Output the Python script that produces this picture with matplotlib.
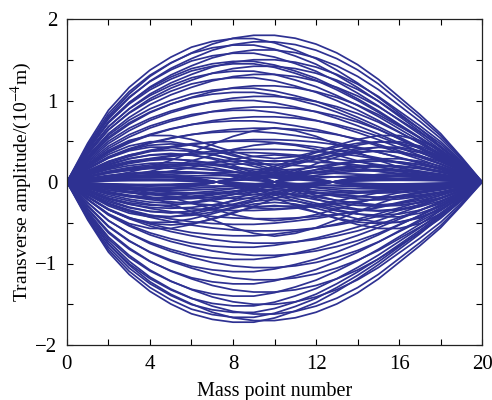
import numpy as np
import matplotlib
matplotlib.use('Agg')
import matplotlib.pyplot as plt
from matplotlib.ticker import MultipleLocator

# Mass points along the string
mass_points = list(range(21))

# Normalised shapes (value at each mass point)
PROFILE_A = [0, .24, .45, .60, .72, .81, .88, .94, .98, 1.00, 1.00,
             .98, .94, .88, .80, .70, .58, .46, .33, .17, 0]
PROFILE_B = [0, .27, .50, .66, .78, .87, .94, .98, 1.00, 1.00, .97,
             .92, .86, .78, .69, .59, .48, .37, .25, .13, 0]
PROFILE_C = [0, .30, .55, .72, .82, .85, .82, .74, .62, .48, .33,
             .20, .08, -.02, -.10, -.15, -.17, -.16, -.12, -.06, 0]
PROFILE_D = [0, -.06, -.12, -.16, -.17, -.15, -.10, -.02, .08, .20, .33,
             .48, .62, .74, .82, .85, .82, .72, .55, .30, 0]
PROFILE_E = [0, .31, .59, .81, .95, 1.0, .95, .81, .59, .31, 0,
             -.31, -.59, -.81, -.95, -1.0, -.95, -.81, -.59, -.31, 0]
PROFILE_F = [0, .35, .65, .85, .95, .95, .87, .75, .62, .52, .48,
             .52, .62, .75, .87, .95, .95, .85, .65, .35, 0]
PROFILE_G = [0, .05, .10, .17, .26, .38, .52, .66, .80, .90, .95,
             .90, .80, .66, .52, .38, .26, .17, .10, .05, 0]

# Amplitudes of the snapshots (10^-4 m)
AMPS_A = [1.80, 1.72, 1.62, 1.50, 1.42, 1.32, 1.18, 1.05, 0.92, 0.80,
          0.66, 0.52, 0.40, 0.26, 0.12, -0.15, -0.30, -0.45, -0.60,
          -0.75, -0.90, -1.05, -1.20, -1.35, -1.50, -1.62, -1.70]
AMPS_B = [1.76, 1.68, 1.58, 1.48, 1.45, 1.36, 1.28, 1.15, 1.10, 1.00,
          0.88, 0.75, 0.62, 0.50, 0.36, 0.22, 0.08, -0.05, -0.20, -0.35,
          -0.52, -0.66, -0.80, -0.95, -1.10, -1.25, -1.40, -1.52, -1.60,
          -1.66, -1.72]
AMPS_C = [0.55, 0.46, 0.40, 0.28, 0.20, 0.15, -0.12, -0.18, -0.25,
          -0.38, -0.44, -0.50, -0.62]
AMPS_D = [0.58, 0.50, 0.45, 0.30, 0.24, 0.18, -0.10, -0.16, -0.22,
          -0.35, -0.42, -0.48, -0.60]
AMPS_E = [0.35, 0.28, 0.22, 0.12, 0.06, -0.08, -0.14, -0.20, -0.26, -0.38]
AMPS_F = [0.60, 0.52, 0.45, 0.30, 0.20, -0.20, -0.30, -0.45, -0.52, -0.60]
AMPS_G = [0.70, 0.50, 0.35, -0.35, -0.50, -0.70]

LINE_COLOR = '#2E3192'

plt.rcParams['font.family'] = ['Liberation Serif', 'DejaVu Serif']
plt.rcParams['mathtext.fontset'] = 'stix'

fig = plt.figure(figsize=(4.92, 4.0), dpi=100)
ax = fig.add_axes([0.136, 0.1375, 0.844, 0.815])

groups = [(PROFILE_A, AMPS_A), (PROFILE_B, AMPS_B), (PROFILE_C, AMPS_C),
          (PROFILE_D, AMPS_D), (PROFILE_E, AMPS_E), (PROFILE_F, AMPS_F),
          (PROFILE_G, AMPS_G)]
for profile, amps in groups:
    shape = np.array(profile)
    for a in amps:
        ax.plot(mass_points, a * shape, color=LINE_COLOR, lw=1.25)

ax.set_xlim(0, 20)
ax.set_ylim(-2, 2)
ax.xaxis.set_major_locator(MultipleLocator(4))
ax.xaxis.set_minor_locator(MultipleLocator(2))
ax.yaxis.set_major_locator(MultipleLocator(1))
ax.yaxis.set_minor_locator(MultipleLocator(0.5))
ax.tick_params(which='both', direction='in', top=True, right=True,
               labelsize=15, width=0.8)
ax.tick_params(which='major', length=4, pad=7)
ax.tick_params(which='minor', length=4)
for s in ax.spines.values():
    s.set_linewidth(0.9)
    s.set_color('#222222')

ax.set_xlabel('Mass point number', fontsize=14.5, labelpad=6)
ax.set_ylabel('Transverse amplitude/(10$^{-4}$m)', fontsize=14, labelpad=1)

fig.savefig('out.png', dpi=100)
